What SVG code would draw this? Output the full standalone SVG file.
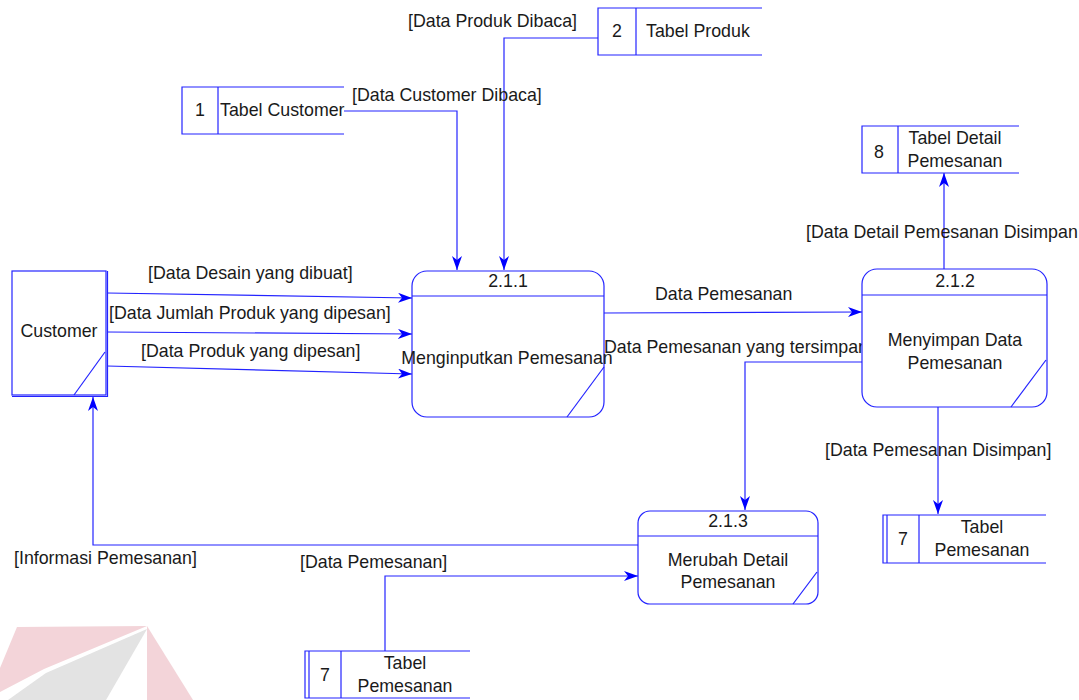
<svg xmlns="http://www.w3.org/2000/svg" width="1079" height="700" viewBox="0 0 1079 700">
  <style>
    .ln { fill: none; stroke: #2323ff; stroke-width: 1.2; }
    .box { fill: #ffffff; stroke: #2323ff; stroke-width: 1.2; }
    .t { font-family: "Liberation Sans", Arial, sans-serif; font-size: 17.8px; fill: #1a1a1a; }
    .c { text-anchor: middle; }
    .arrow { marker-end: url(#arr); }
  </style>
  <defs>
    <marker id="arr" viewBox="0 0 14 10" refX="14" refY="5" markerWidth="14" markerHeight="10" orient="auto" markerUnits="userSpaceOnUse">
      <path d="M0,0 L14,5 L0,10 L4,5 z" fill="#0000ff"/>
    </marker>
  </defs>

  <rect width="1079" height="700" fill="#ffffff"/>

  <!-- faint logo mark, lower left -->
  <g id="logo" opacity="0.9">
    <polygon points="17,627 147,626 44,669 0,692 0,668" fill="#f2d0d5"/>
    <polygon points="147,626 193,700 147,700" fill="#f2d0d5"/>
    <polygon points="147,629 46,673 8,700 106,700" fill="#e0e0e0"/>
  </g>

  <!-- connectors -->
  <g id="connectors">
    <polyline class="ln arrow" points="344,111 457,111 457,270"/>
    <polyline class="ln arrow" points="598,38 504,38 504,270"/>
    <line class="ln arrow" x1="107" y1="293" x2="412" y2="298"/>
    <line class="ln arrow" x1="107" y1="332" x2="412" y2="334"/>
    <line class="ln arrow" x1="107" y1="366" x2="412" y2="374"/>
    <line class="ln arrow" x1="604" y1="313" x2="862" y2="312"/>
    <polyline class="ln arrow" points="862,362 745,362 745,510"/>
    <line class="ln arrow" x1="944" y1="269" x2="944" y2="173"/>
    <line class="ln arrow" x1="938" y1="407" x2="938" y2="514"/>
    <polyline class="ln arrow" points="638,545 93,545 93,397"/>
    <polyline class="ln arrow" points="385,651 385,576 638,576"/>

    <text class="t" x="408" y="27">[Data Produk Dibaca]</text>
    <text class="t" x="352" y="101">[Data Customer Dibaca]</text>
    <text class="t" x="148" y="279">[Data Desain yang dibuat]</text>
    <text class="t" x="109" y="319">[Data Jumlah Produk yang dipesan]</text>
    <text class="t" x="141" y="357">[Data Produk yang dipesan]</text>
    <text class="t" x="655" y="300">Data Pemesanan</text>
    <text class="t" x="604" y="353">Data Pemesanan yang tersimpan</text>
    <text class="t" x="806" y="238">[Data Detail Pemesanan Disimpan</text>
    <text class="t" x="825" y="456">[Data Pemesanan Disimpan]</text>
    <text class="t" x="14" y="564">[Informasi Pemesanan]</text>
    <text class="t" x="300" y="568">[Data Pemesanan]</text>
  </g>

  <!-- external entity -->
  <g id="customer">
    <rect class="box" x="12" y="271" width="94" height="124"/>
    <polyline class="ln" points="107.5,271 107.5,396.5 12,396.5"/>
    <line class="ln" x1="105" y1="352" x2="74" y2="395"/>
    <text class="t c" x="59" y="337">Customer</text>
  </g>

  <!-- processes -->
  <g id="p211">
    <rect class="box" x="412" y="271" width="192" height="146" rx="15" ry="15"/>
    <line class="ln" x1="412" y1="296" x2="604" y2="296"/>
    <line class="ln" x1="604" y1="367" x2="567" y2="417"/>
    <text class="t c" x="508" y="287">2.1.1</text>
    <text class="t c" x="507" y="364">Menginputkan Pemesanan</text>
  </g>

  <g id="p212">
    <rect class="box" x="862" y="269" width="185" height="138" rx="15" ry="15"/>
    <line class="ln" x1="862" y1="295" x2="1047" y2="295"/>
    <line class="ln" x1="1046" y1="360" x2="1011" y2="407"/>
    <text class="t c" x="955" y="287">2.1.2</text>
    <text class="t c" x="955" y="346">Menyimpan Data</text>
    <text class="t c" x="955" y="369">Pemesanan</text>
  </g>

  <g id="p213">
    <rect class="box" x="638" y="511" width="180" height="93" rx="12" ry="12"/>
    <line class="ln" x1="638" y1="536" x2="818" y2="536"/>
    <line class="ln" x1="817" y1="572" x2="793" y2="604"/>
    <text class="t c" x="728" y="527">2.1.3</text>
    <text class="t c" x="728" y="566">Merubah Detail</text>
    <text class="t c" x="728" y="588">Pemesanan</text>
  </g>

  <!-- data stores -->
  <g id="ds1">
    <polyline class="ln" points="344,87 182,87 182,134 344,134"/>
    <line class="ln" x1="218" y1="87" x2="218" y2="134"/>
    <text class="t c" x="200" y="116">1</text>
    <text class="t" x="220" y="116">Tabel Customer</text>
  </g>

  <g id="ds2">
    <polyline class="ln" points="762,8 598,8 598,55 762,55"/>
    <line class="ln" x1="636" y1="8" x2="636" y2="55"/>
    <text class="t c" x="617" y="37">2</text>
    <text class="t" x="646" y="37">Tabel Produk</text>
  </g>

  <g id="ds8">
    <polyline class="ln" points="1019,126 862,126 862,173 1019,173"/>
    <line class="ln" x1="898" y1="126" x2="898" y2="173"/>
    <text class="t c" x="879" y="158">8</text>
    <text class="t c" x="955" y="144">Tabel Detail</text>
    <text class="t c" x="955" y="167">Pemesanan</text>
  </g>

  <g id="ds7a">
    <polyline class="ln" points="1046,515 883,515 883,563 1046,563"/>
    <line class="ln" x1="887" y1="515" x2="887" y2="563"/>
    <line class="ln" x1="919" y1="515" x2="919" y2="563"/>
    <text class="t c" x="903" y="545">7</text>
    <text class="t c" x="982" y="533">Tabel</text>
    <text class="t c" x="982" y="556">Pemesanan</text>
  </g>

  <g id="ds7b">
    <polyline class="ln" points="470,651 305,651 305,698 470,698"/>
    <line class="ln" x1="309" y1="651" x2="309" y2="698"/>
    <line class="ln" x1="341" y1="651" x2="341" y2="698"/>
    <text class="t c" x="325" y="681">7</text>
    <text class="t c" x="405" y="669">Tabel</text>
    <text class="t c" x="405" y="692">Pemesanan</text>
  </g>
</svg>
